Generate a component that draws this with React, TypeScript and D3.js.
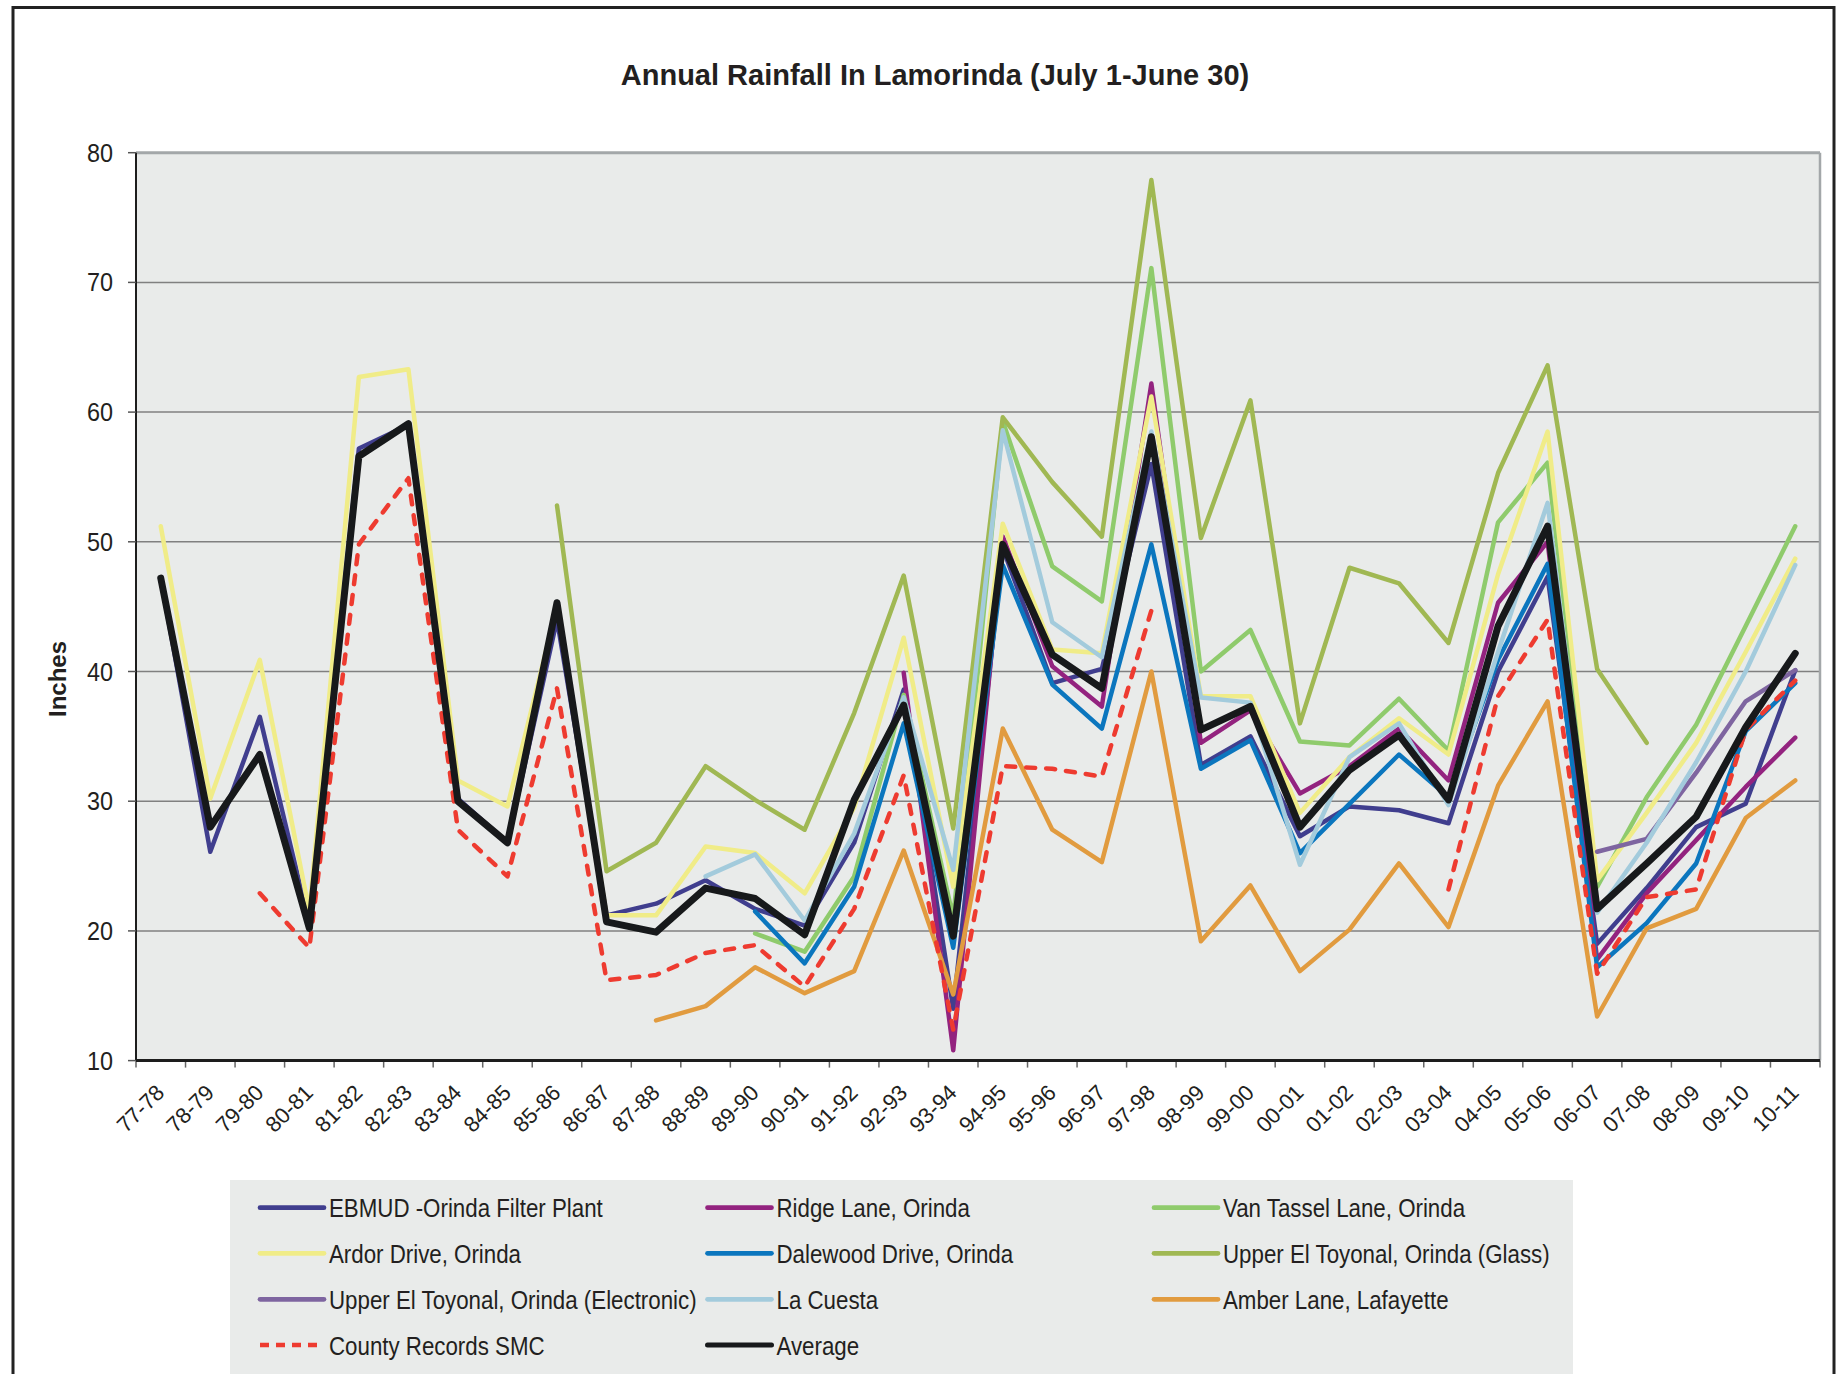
import React from "react";
import * as d3 from "d3";

const N = null;

const categories = ["77-78","78-79","79-80","80-81","81-82","82-83","83-84","84-85","85-86","86-87","87-88","88-89","89-90","90-91","91-92","92-93","93-94","94-95","95-96","96-97","97-98","98-99","99-00","00-01","01-02","02-03","03-04","04-05","05-06","06-07","07-08","08-09","09-10","10-11"];

const yTicks = [10, 20, 30, 40, 50, 60, 70, 80];

const ebmud = [47.2, 26.1, 36.5, 20.5, 57.2, 59.0, 30.2, 26.8, 44.0, 21.2, 22.1, 23.9, 21.7, 20.4, 26.8, 38.6, 14.0, 49.5, 39.1, 40.2, 56.0, 32.8, 35.0, 27.3, 29.6, 29.3, 28.3, 40.0, 47.3, 19.0, 23.3, 28.0, 29.8, 40.1];
const ridge = [N, N, N, N, N, N, N, N, N, N, N, N, N, N, N, 39.9, 10.8, 50.4, 40.4, 37.3, 62.2, 34.5, 37.0, 30.6, 32.7, 35.6, 31.6, 45.3, 50.0, 17.8, 22.9, 27.0, 31.1, 34.9];
const vanTassel = [N, N, N, N, N, N, N, N, N, N, N, N, 19.8, 18.4, 24.2, 38.2, 21.0, 59.3, 48.1, 45.4, 71.1, 40.0, 43.2, 34.6, 34.3, 37.9, 33.9, 51.5, 56.1, 23.4, 30.3, 35.9, 43.5, 51.2];
const ardor = [51.2, 30.2, 40.9, 21.5, 62.7, 63.3, 31.6, 29.6, 45.0, 21.2, 21.2, 26.5, 26.0, 22.9, 29.5, 42.6, 23.4, 51.4, 41.7, 41.4, 61.2, 38.1, 38.1, 29.1, 33.4, 36.4, 33.6, 47.5, 58.5, 23.9, 29.1, 34.5, 41.5, 48.7];
const dalewood = [N, N, N, N, N, N, N, N, N, N, N, N, 21.5, 17.5, 23.4, 36.0, 18.7, 48.2, 39.0, 35.6, 49.8, 32.5, 34.7, 26.0, 29.8, 33.6, 30.3, 40.9, 48.3, 17.2, 20.6, 25.2, 35.4, 39.1];
const glass = [N, N, N, N, N, N, N, N, 52.8, 24.6, 26.8, 32.7, 30.1, 27.8, 36.8, 47.4, 27.9, 59.6, 54.6, 50.4, 77.9, 50.3, 60.9, 36.0, 48.0, 46.8, 42.2, 55.3, 63.6, 40.2, 34.5, N, N, N];
const electronic = [N, N, N, N, N, N, N, N, N, N, N, N, N, N, N, N, N, N, N, N, N, N, N, N, N, N, N, N, N, 26.1, 27.1, 32.2, 37.7, 40.1];
const laCuesta = [N, N, N, N, N, N, N, N, N, N, N, 24.2, 25.9, 20.8, 27.5, 38.0, 24.7, 58.6, 43.8, 41.1, 58.5, 38.0, 37.6, 25.1, 33.4, 36.0, 29.7, 41.5, 53.0, 21.4, 26.8, 33.0, 40.0, 48.2];
const amber = [N, N, N, N, N, N, N, N, N, N, 13.1, 14.2, 17.2, 15.2, 16.9, 26.2, 15.1, 35.6, 27.8, 25.3, 40.0, 19.2, 23.5, 16.9, 20.1, 25.2, 20.3, 31.2, 37.7, 13.4, 20.2, 21.7, 28.7, 31.6];
const county = [N, N, 22.9, 18.7, 49.8, 54.9, 27.8, 24.2, 38.7, 16.2, 16.6, 18.3, 18.9, 15.7, 21.7, 32.0, 12.4, 32.7, 32.5, 31.9, 44.7, N, N, N, N, N, 23.2, 38.1, 44.0, 16.7, 22.6, 23.2, 35.5, 39.3];
const average = [47.2, 28.0, 33.6, 20.2, 56.6, 59.1, 30.0, 26.8, 45.3, 20.7, 19.9, 23.3, 22.5, 19.7, 30.1, 37.4, 19.6, 49.8, 41.3, 38.7, 58.1, 35.5, 37.3, 28.0, 32.4, 35.1, 30.1, 43.5, 51.2, 21.7, 25.2, 28.8, 35.7, 41.4];

const seriesNames = ["EBMUD -Orinda Filter Plant", "Ridge Lane, Orinda", "Van Tassel Lane, Orinda", "Ardor Drive, Orinda", "Dalewood Drive, Orinda", "Upper El Toyonal, Orinda (Glass)", "Upper El Toyonal, Orinda (Electronic)", "La Cuesta", "Amber Lane, Lafayette", "County Records SMC", "Average"];
const seriesValues = [ebmud, ridge, vanTassel, ardor, dalewood, glass, electronic, laCuesta, amber, county, average];
const seriesColors = ["#403e8e", "#93237f", "#8fcb6c", "#f0ec88", "#0b76be", "#a0b853", "#7e65a0", "#a3cbdc", "#e19b3f", "#ee3b30", "#17191b"];

const FONT = "Arial, 'Liberation Sans', Helvetica, sans-serif";

export default function App() {
  const W = 1839, H = 1374;
  const left = 136, right = 1820, top = 152.7, bottom = 1060.6;
  const x = d3.scaleBand<string>().domain(categories).range([left, right]).padding(0);
  const y = d3.scaleLinear().domain([10, 80]).range([bottom, top]);
  const bw = x.bandwidth();
  const cx = (i: number) => (x(categories[i]) as number) + bw / 2;

  const line = d3.line<number | null>()
    .defined((d) => d !== null)
    .x((_, i) => cx(i))
    .y((d) => y(d as number));

  const legendCols = [260, 707.5, 1154];
  const legendRows = [1207.7, 1253.3, 1299.3, 1345];

  return (
    <svg width={W} height={H} style={{ position: "absolute", left: 0, top: 0, display: "block", background: "#fff" }} fontFamily={FONT}>
      <rect x={0} y={0} width={W} height={H} fill="#ffffff" />
      {/* outer frame */}
      <rect x={13} y={7.5} width={1821} height={1420} fill="none" stroke="#222222" strokeWidth={3} />
      {/* title */}
      <text x={935} y={84.5} textAnchor="middle" fontSize={29} fontWeight="bold" fill="#231f20">Annual Rainfall In Lamorinda (July 1-June 30)</text>

      {/* plot background */}
      <rect x={left} y={top} width={right - left} height={bottom - top} fill="#e9ebea" />
      {/* gridlines */}
      {yTicks.filter((t) => t !== 10 && t !== 80).map((t) => (
        <line key={"g" + t} x1={left} x2={right} y1={y(t)} y2={y(t)} stroke="#808080" strokeWidth={1.5} />
      ))}
      {/* plot border top/right */}
      <line x1={left} x2={right} y1={top} y2={top} stroke="#a3a7a9" strokeWidth={3} />
      <line x1={right} x2={right} y1={top} y2={bottom} stroke="#a3a7a9" strokeWidth={2.5} />

      {/* y axis */}
      <line x1={left} x2={left} y1={top} y2={bottom} stroke="#1d1d1d" strokeWidth={2} />
      {yTicks.map((t) => (
        <g key={"yt" + t}>
          <line x1={128} x2={left} y1={y(t)} y2={y(t)} stroke="#555" strokeWidth={1.5} />
          <text transform={`translate(113,${y(t) + 9}) scale(0.9,1)`} textAnchor="end" fontSize={26} fill="#231f20">{t}</text>
        </g>
      ))}
      <text transform={`translate(${66},${679}) rotate(-90)`} textAnchor="middle" fontSize={24} fontWeight="bold" fill="#231f20">Inches</text>

      {/* x axis */}
      {d3.range(categories.length + 1).map((i) => (
        <line key={"xt" + i} x1={left + i * bw} x2={left + i * bw} y1={bottom} y2={bottom + 7} stroke="#666" strokeWidth={1.5} />
      ))}
      {categories.map((c, i) => (
        <text key={"xl" + c} transform={`translate(${cx(i) + 5},${1094}) rotate(-45)`} textAnchor="end" fontSize={22} fill="#231f20">{c}</text>
      ))}

      {/* series */}
      {seriesValues.map((vals, k) => (
        <path
          key={"s" + k}
          d={line(vals) || ""}
          fill="none"
          stroke={seriesColors[k]}
          strokeWidth={k === 10 ? 7 : 4.5}
          strokeLinejoin="round"
          strokeLinecap="round"
          strokeDasharray={k === 9 ? "9 11" : undefined}
        />
      ))}
      <line x1={left} x2={right} y1={bottom} y2={bottom} stroke="#1d1d1d" strokeWidth={3} />

      {/* legend */}
      <rect x={230} y={1180} width={1343} height={220} fill="#e9ebea" />
      {seriesNames.map((name, k) => {
        const col = k % 3;
        const row = Math.floor(k / 3);
        const lx = legendCols[col];
        const ly = legendRows[row];
        return (
          <g key={"lg" + k}>
            <line x1={lx} x2={lx + 64} y1={ly} y2={ly} stroke={seriesColors[k]} strokeWidth={k === 10 ? 5 : 4.7}
              strokeLinecap={k === 9 ? "butt" : "round"} strokeDasharray={k === 9 ? "9 7" : undefined} />
            <text transform={`translate(${lx + 69},${ly + 9.5}) scale(0.875,1)`} fontSize={25.5} fill="#231f20">{name}</text>
          </g>
        );
      })}
    </svg>
  );
}
